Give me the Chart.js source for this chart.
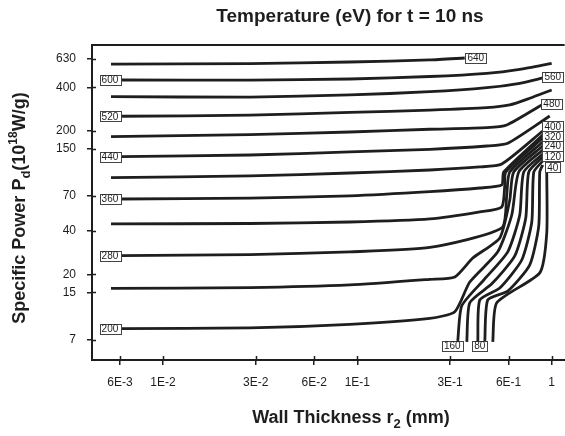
<!DOCTYPE html>
<html>
<head>
<meta charset="utf-8">
<script src="https://cdn.jsdelivr.net/npm/chart.js"></script>
<style>
  html, body { margin: 0; padding: 0; background: #fff; }
  #wrap { width: 565px; height: 436px; }
</style>
</head>
<body>
<div id="wrap"><canvas id="tempChart"></canvas></div>
<script>
// axis ticks
const thicknessTicks = [0.006, 0.01, 0.03, 0.06, 0.1, 0.3, 0.6, 1];
const thicknessTickLabels = ['6E-3', '1E-2', '3E-2', '6E-2', '1E-1', '3E-1', '6E-1', '1'];
const powerTicks = [7, 15, 20, 40, 70, 150, 200, 400, 630];

// temperature contours (eV); '' is a line without a label
const levels = ['640', '600', '560', '520', '480', '440', '400', '360', '320', '280', '240', '200', '160', '120', '80', '', '40'];

// wall thickness r2 (mm) along each contour
const contourR = [
  [0.0054, 0.028, 0.0915, 0.236, 0.357],
  [0.0061, 0.028, 0.0915, 0.236, 0.4636, 0.6851, 1.0],
  [0.0054, 0.028, 0.0915, 0.236, 0.4636, 0.6851, 0.8996],
  [0.0061, 0.028, 0.0915, 0.236, 0.4636, 0.6087, 0.7715, 1.0],
  [0.0054, 0.028, 0.0915, 0.236, 0.4636, 0.5874, 0.889],
  [0.0061, 0.028, 0.0915, 0.236, 0.4636, 0.5944, 0.9775],
  [0.0054, 0.028, 0.0915, 0.236, 0.4268, 0.5537, 0.8996],
  [0.0061, 0.028, 0.0915, 0.236, 0.4268, 0.5537, 0.567, 0.8996],
  [0.0054, 0.028, 0.0915, 0.236, 0.4268, 0.5537, 0.5738, 0.5805, 0.8996],
  [0.0061, 0.028, 0.0915, 0.236, 0.5537, 0.5874, 0.6087, 0.8996],
  [0.0054, 0.028, 0.0915, 0.236, 0.3173, 0.3926, 0.5407, 0.6087, 0.6381, 0.8996],
  [0.0061, 0.028, 0.0915, 0.236, 0.3173, 0.379, 0.528, 0.6233, 0.6771, 0.8996],
  [0.3287, 0.3447, 0.4473, 0.5944, 0.6851, 0.7184, 0.8996],
  [0.3658, 0.379, 0.4918, 0.6458, 0.7357, 0.7623, 0.8996],
  [0.4168, 0.4268, 0.5407, 0.7015, 0.7901, 0.809, 0.8996],
  [0.4527, 0.469, 0.5944, 0.7715, 0.8581, 0.8683, 0.8996],
  [0.4976, 0.5218, 0.8683, 0.9434, 0.9434]
];

// specific power Pd (1e18 W/g) along each contour
const contourP = [
  [581, 584, 600, 620, 640],
  [450, 449, 457, 476, 501, 534, 588],
  [344.5, 342, 354, 373, 398, 427, 465],
  [251.7, 256, 267.5, 278, 289, 302, 336, 383.5],
  [181.6, 187.5, 195.7, 204.4, 209.7, 218.9, 301.6],
  [131.8, 135.4, 142.1, 148.3, 156.4, 163.4, 252.9],
  [94.2, 96.8, 101.5, 106.5, 111.8, 117.2, 198.9],
  [66.9, 67.8, 70.3, 75.2, 79.8, 83.8, 103.1, 186.6],
  [44.9, 45.2, 46.3, 48.6, 54.4, 58.9, 83.8, 103.1, 177.8],
  [27.0, 27.5, 28.7, 30.8, 42.1, 71.4, 103.1, 166.8],
  [16.0, 16.2, 16.9, 18.5, 19.2, 26.0, 35.9, 65.9, 103.1, 156.4],
  [8.4, 8.5, 9.0, 9.9, 11.0, 17.7, 28.7, 51.8, 103.1, 146.7],
  [6.89, 12.1, 18.3, 28.7, 51.8, 103.1, 137.6],
  [6.78, 12.7, 17.2, 26.9, 49.4, 103.1, 131.2],
  [6.89, 13.3, 16.1, 25.2, 46.3, 103.1, 123.0],
  [6.78, 13.3, 15.3, 23.3, 43.5, 103.1, 115.4],
  [6.78, 12.7, 20.5, 38.8, 103.1]
];

// where each contour label sits
const labelR = [0.407, 0.00533, 1.013, 0.00533, 1.0, 0.00533, 1.013, 0.00533, 1.013, 0.00533, 1.013, 0.00533, 0.3081, 1.013, 0.4268, null, 1.013];
const labelP = [640, 450, 472, 251.7, 306.5, 131.8, 213.8, 66.9, 182.2, 27.0, 156.4, 8.4, 6.36, 132.2, 6.36, null, 110.9];

const FONT = "'Liberation Sans', Arial, Helvetica, sans-serif";
const INK = '#1e1e1e';

Chart.defaults.font.family = FONT;
Chart.defaults.color = INK;

// draws a run of text pieces (sub/superscripts) centred on cx
function drawRich(c, parts, cx, baseline) {
  let total = 0;
  parts.forEach(p => {
    c.font = 'bold ' + p.size + 'px ' + FONT;
    p.w = c.measureText(p.text).width;
    total += p.w;
  });
  let x = cx - total / 2;
  c.textAlign = 'left';
  c.textBaseline = 'alphabetic';
  parts.forEach(p => {
    c.font = 'bold ' + p.size + 'px ' + FONT;
    c.fillText(p.text, x, baseline + (p.dy || 0));
    x += p.w;
  });
}

const contourExtras = {
  id: 'contourExtras',
  afterDatasetsDraw(chart) {
    const c = chart.ctx;
    const xs = chart.scales.x, ys = chart.scales.y;
    c.save();
    c.font = '10px ' + FONT;
    c.textAlign = 'center';
    c.textBaseline = 'middle';
    levels.forEach((lv, i) => {
      if (!lv || labelR[i] == null) return;
      const px = xs.getPixelForValue(labelR[i]);
      const py = ys.getPixelForValue(labelP[i]);
      const w = c.measureText(lv).width + 4;
      const h = 10;
      c.fillStyle = '#fff';
      c.fillRect(px - w / 2, py - h / 2, w, h);
      c.strokeStyle = '#444';
      c.lineWidth = 1;
      c.strokeRect(Math.round(px - w / 2) + 0.5, Math.round(py - h / 2) + 0.5, Math.round(w), h);
      c.fillStyle = INK;
      c.fillText(lv, px, py + 0.5);
    });
    c.restore();
  },
  afterDraw(chart) {
    const c = chart.ctx;
    const a = chart.chartArea;
    const xs = chart.scales.x, ys = chart.scales.y;
    c.save();
    c.strokeStyle = INK;
    // top frame line
    c.lineWidth = 2;
    c.beginPath();
    c.moveTo(a.left, a.top);
    c.lineTo(a.right, a.top);
    c.stroke();
    // inward half of the tick marks
    c.lineWidth = 1.5;
    c.beginPath();
    thicknessTicks.forEach(v => {
      const px = Math.round(xs.getPixelForValue(v)) + 0.5;
      c.moveTo(px, a.bottom);
      c.lineTo(px, a.bottom - 4);
    });
    powerTicks.forEach(v => {
      const py = Math.round(ys.getPixelForValue(v)) + 0.5;
      c.moveTo(a.left, py);
      c.lineTo(a.left + 4, py);
    });
    c.stroke();

    c.fillStyle = INK;
    drawRich(c, [{ text: 'Temperature (eV) for t = 10 ns', size: 19 }], 350, 22);
    drawRich(c, [
      { text: 'Wall Thickness r', size: 18 },
      { text: '2', size: 13, dy: 5 },
      { text: ' (mm)', size: 18 }
    ], 351, 423);
    c.translate(25, 208);
    c.rotate(-Math.PI / 2);
    drawRich(c, [
      { text: 'Specific Power P', size: 18 },
      { text: 'd', size: 13, dy: 5 },
      { text: '(10', size: 18 },
      { text: '18', size: 12, dy: -8 },
      { text: 'W/g)', size: 18 }
    ], 0, 0);
    c.restore();
  }
};

new Chart(document.getElementById('tempChart'), {
  type: 'scatter',
  data: {
    datasets: levels.map((lv, i) => ({
      label: lv ? lv + ' eV' : 'contour',
      data: contourR[i].map((r, j) => ({ x: r, y: contourP[i][j] })),
      showLine: true,
      borderColor: INK,
      borderWidth: 2.8,
      borderJoinStyle: 'round',
      pointRadius: 0,
      tension: 0.2,
      fill: false
    }))
  },
  options: {
    responsive: true,
    maintainAspectRatio: false,
    animation: false,
    layout: { padding: { left: 0, top: 45, right: 0, bottom: 0 }, autoPadding: false },
    plugins: {
      legend: { display: false },
      title: { display: false },
      tooltip: { enabled: false }
    },
    scales: {
      x: {
        type: 'logarithmic',
        min: 0.00431,
        max: 1.166,
        afterBuildTicks: s => { s.ticks = thicknessTicks.map(v => ({ value: v })); },
        afterFit: s => { s.height = 76; },
        ticks: {
          autoSkip: false,
          maxRotation: 0,
          padding: 10,
          font: { size: 12 },
          callback: (v) => thicknessTickLabels[thicknessTicks.indexOf(v)] ?? ''
        },
        grid: { drawOnChartArea: false, tickLength: 5, color: INK, lineWidth: 1.5 },
        border: { color: INK, width: 2 }
      },
      y: {
        type: 'logarithmic',
        min: 5.08,
        max: 788,
        afterBuildTicks: s => { s.ticks = powerTicks.map(v => ({ value: v })); },
        afterFit: s => { s.width = 92; },
        ticks: {
          autoSkip: false,
          padding: 11,
          font: { size: 12 },
          callback: (v) => String(v)
        },
        grid: { drawOnChartArea: false, tickLength: 5, color: INK, lineWidth: 1.5 },
        border: { color: INK, width: 2 }
      }
    }
  },
  plugins: [contourExtras]
});
</script>
</body>
</html>
